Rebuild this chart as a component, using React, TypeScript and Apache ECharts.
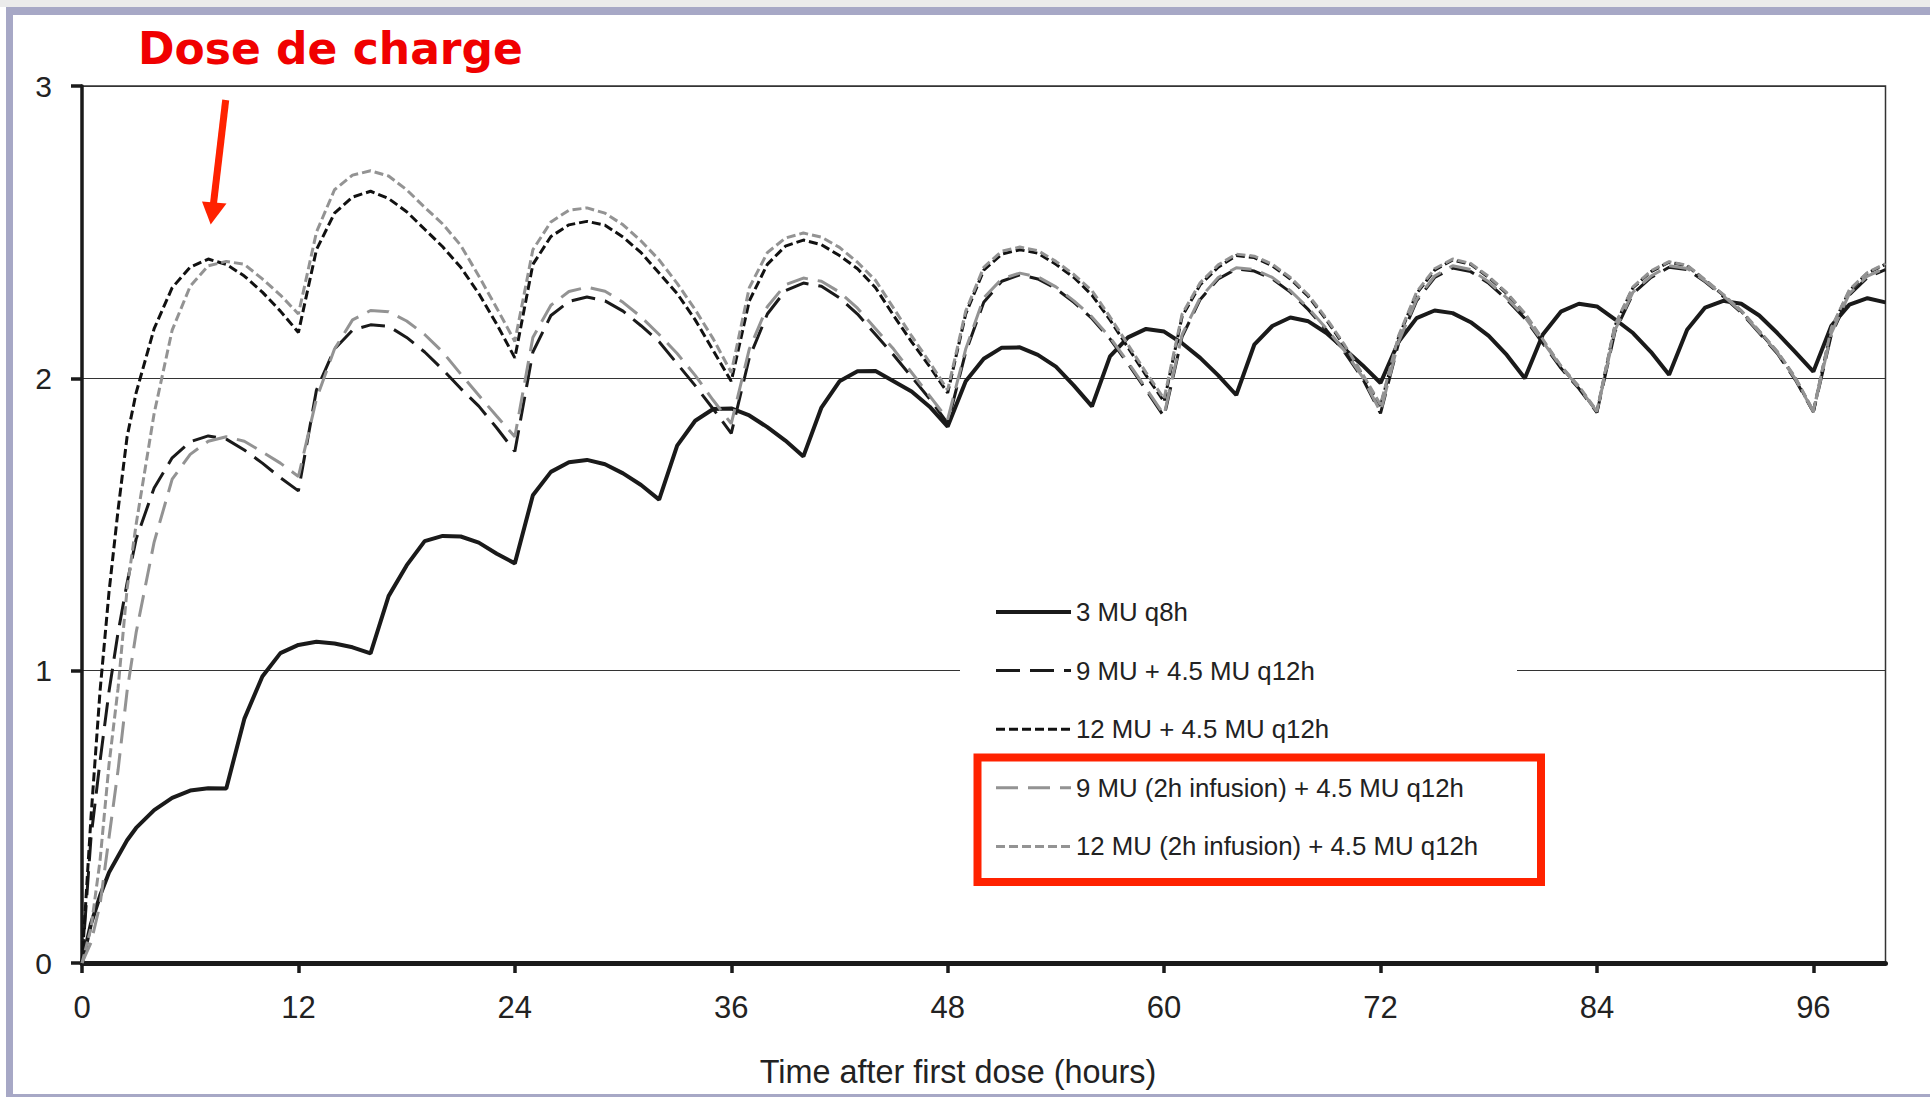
import React, { useEffect, useRef } from "react";
import * as echarts from "echarts";

// ---------- data ----------
const EARLY_HOURS = [0, 0.5, 1, 1.5, 2, 2.5, 3];
const HOURS: number[] = [...EARLY_HOURS, ...Array.from({ length: 97 }, (_, i) => i + 4)];

const X_TICKS = [0, 12, 24, 36, 48, 60, 72, 84, 96];
const Y_TICKS = [0, 1, 2, 3];

const SERIES_NAMES = [
  "3 MU q8h",
  "9 MU + 4.5 MU q12h",
  "12 MU + 4.5 MU q12h",
  "9 MU (2h infusion) + 4.5 MU q12h",
  "12 MU (2h infusion) + 4.5 MU q12h",
];

// 3 MU q8h
const S_3MU_Q8H = [
  0, 0.135, 0.23, 0.31, 0.365, 0.42, 0.462,
  0.523, 0.565, 0.59, 0.598, 0.597, 0.835, 0.98, 1.06, 1.088,
  1.099, 1.093, 1.08, 1.059, 1.255, 1.36, 1.443, 1.461, 1.459, 1.438, 1.4, 1.367,
  1.6, 1.68, 1.713, 1.721, 1.706, 1.675, 1.635, 1.585, 1.77, 1.855, 1.895, 1.897,
  1.873, 1.833, 1.787, 1.733, 1.9, 1.99, 2.024, 2.025, 1.99, 1.955, 1.903, 1.835,
  1.99, 2.067, 2.105, 2.106, 2.08, 2.04, 1.975, 1.904, 2.075, 2.14, 2.169, 2.16,
  2.12, 2.07, 2.01, 1.943, 2.115, 2.179, 2.208, 2.195, 2.155, 2.1, 2.045, 1.984,
  2.125, 2.206, 2.232, 2.223, 2.192, 2.145, 2.08, 2.0, 2.15, 2.228, 2.255, 2.246,
  2.202, 2.155, 2.09, 2.012, 2.166, 2.242, 2.265, 2.255, 2.215, 2.155, 2.09, 2.023,
  2.18, 2.252, 2.274, 2.26,
];

// 9 MU + 4.5 MU q12h
const S_9MU = [
  0, 0.43, 0.69, 0.93, 1.13, 1.3, 1.45,
  1.625, 1.728, 1.783, 1.803, 1.792, 1.755, 1.71, 1.66, 1.615,
  1.96, 2.1, 2.165, 2.183, 2.178, 2.14, 2.09, 2.03, 1.965, 1.905, 1.83, 1.75,
  2.09, 2.215, 2.263, 2.278, 2.265, 2.23, 2.18, 2.125, 2.05, 1.975, 1.895, 1.812,
  2.07, 2.22, 2.3, 2.326, 2.315, 2.275, 2.22, 2.15, 2.08, 2.005, 1.93, 1.846,
  2.09, 2.26, 2.332, 2.354, 2.34, 2.307, 2.26, 2.205, 2.135, 2.05, 1.96, 1.869,
  2.143, 2.27, 2.34, 2.374, 2.367, 2.34, 2.295, 2.235, 2.165, 2.09, 2.0, 1.88,
  2.12, 2.265, 2.345, 2.377, 2.365, 2.325, 2.27, 2.205, 2.12, 2.035, 1.965, 1.883,
  2.16, 2.29, 2.345, 2.38, 2.372, 2.33, 2.28, 2.225, 2.155, 2.085, 1.995, 1.885,
  2.15, 2.285, 2.345, 2.372,
];

// 12 MU + 4.5 MU q12h
const S_12MU = [
  0, 0.5, 0.93, 1.27, 1.55, 1.8, 1.95,
  2.17, 2.31, 2.38, 2.408, 2.39, 2.35, 2.295, 2.23, 2.157,
  2.44, 2.565, 2.62, 2.64, 2.615, 2.57, 2.51, 2.45, 2.38, 2.29, 2.185, 2.07,
  2.39, 2.485, 2.525, 2.537, 2.524, 2.483, 2.43, 2.36, 2.29, 2.2, 2.095, 1.99,
  2.265, 2.39, 2.452, 2.473, 2.457, 2.42, 2.375, 2.31, 2.215, 2.125, 2.04, 1.95,
  2.22, 2.37, 2.425, 2.44, 2.428, 2.39, 2.345, 2.285, 2.2, 2.105, 2.01, 1.92,
  2.212, 2.32, 2.38, 2.42, 2.413, 2.385, 2.34, 2.28, 2.2, 2.11, 2.01, 1.905,
  2.14, 2.29, 2.37, 2.405, 2.39, 2.345, 2.29, 2.22, 2.13, 2.04, 1.97, 1.885,
  2.18, 2.31, 2.365, 2.397, 2.385, 2.335, 2.285, 2.23, 2.16, 2.09, 2.0, 1.886,
  2.17, 2.3, 2.36, 2.39,
];

// 9 MU (2h infusion) + 4.5 MU q12h
const S_9MU_INF = [
  0, 0.07, 0.2, 0.43, 0.66, 0.93, 1.13,
  1.44, 1.655, 1.74, 1.785, 1.8, 1.785, 1.748, 1.71, 1.664,
  1.93, 2.1, 2.2, 2.232, 2.228, 2.196, 2.15, 2.09, 2.015, 1.942, 1.87, 1.8,
  2.14, 2.25, 2.297, 2.312, 2.298, 2.26, 2.21, 2.15, 2.085, 2.01, 1.925, 1.845,
  2.1, 2.245, 2.32, 2.343, 2.332, 2.295, 2.24, 2.17, 2.1, 2.02, 1.94, 1.86,
  2.1, 2.275, 2.34, 2.36, 2.347, 2.313, 2.265, 2.21, 2.14, 2.055, 1.965, 1.875,
  2.15, 2.275, 2.345, 2.378, 2.372, 2.345, 2.3, 2.24, 2.17, 2.095, 2.005, 1.885,
  2.125, 2.27, 2.35, 2.385, 2.372, 2.33, 2.275, 2.21, 2.125, 2.04, 1.968, 1.886,
  2.165, 2.295, 2.35, 2.385, 2.376, 2.333, 2.283, 2.228, 2.158, 2.088, 1.998, 1.886,
  2.155, 2.29, 2.35, 2.377,
];

// 12 MU (2h infusion) + 4.5 MU q12h
const S_12MU_INF = [
  0, 0.12, 0.35, 0.68, 0.94, 1.28, 1.5,
  1.88, 2.165, 2.315, 2.385, 2.4, 2.39, 2.34, 2.285, 2.22,
  2.5, 2.645, 2.695, 2.71, 2.692, 2.645, 2.585, 2.528, 2.455, 2.35, 2.24, 2.126,
  2.44, 2.535, 2.575, 2.583, 2.565, 2.525, 2.47, 2.405, 2.325, 2.235, 2.135, 2.02,
  2.31, 2.43, 2.48, 2.497, 2.483, 2.448, 2.397, 2.335, 2.24, 2.145, 2.055, 1.96,
  2.23, 2.38, 2.435, 2.449, 2.437, 2.4, 2.355, 2.3, 2.21, 2.115, 2.02, 1.93,
  2.22, 2.327, 2.388, 2.425, 2.418, 2.39, 2.345, 2.285, 2.205, 2.115, 2.015, 1.91,
  2.145, 2.295, 2.375, 2.408, 2.393, 2.348, 2.293, 2.223, 2.133, 2.043, 1.973, 1.888,
  2.183, 2.313, 2.368, 2.399, 2.387, 2.337, 2.287, 2.232, 2.162, 2.092, 2.003, 1.888,
  2.173, 2.303, 2.362, 2.392,
];

const SERIES_VALUES = [S_3MU_Q8H, S_9MU, S_12MU, S_9MU_INF, S_12MU_INF];

// ---------- styles ----------
const FONT = "'Liberation Sans', Arial, sans-serif";
const STYLES = [
  { color: "#1a1a1a", width: 4, type: "solid" as any },
  { color: "#1a1a1a", width: 3, type: [24, 10] },
  { color: "#111111", width: 3, type: [9, 4] },
  { color: "#939393", width: 3, type: [22, 10] },
  { color: "#939393", width: 3, type: [9, 4] },
];

export default function App() {
  const ref = useRef<HTMLDivElement>(null);

  useEffect(() => {
    document.body.style.margin = "0";
    document.body.style.overflow = "hidden";
    const chart = echarts.init(ref.current!, null, { renderer: "svg" });

    const series = SERIES_NAMES.map((name, k) => ({
      name,
      type: "line",
      showSymbol: false,
      symbol: "none",
      color: STYLES[k].color,
      lineStyle: { color: STYLES[k].color, width: STYLES[k].width, type: STYLES[k].type, cap: "butt" },
      data: HOURS.map((t, i) => [t, SERIES_VALUES[k][i]]),
      z: 2 + k * 0.1,
      silent: true,
    }));

    const option: any = {
      animation: false,
      backgroundColor: "#ffffff",
      grid: {
        left: 82,
        right: 44.5,
        top: 86,
        bottom: 134,
        show: true,
        borderColor: "#333",
        borderWidth: 1.5,
        containLabel: false,
      },
      xAxis: {
        type: "value",
        min: 0,
        max: 100,
        interval: 12,
        axisLine: { show: true, lineStyle: { color: "#1a1a1a", width: 5 } },
        axisTick: {
          show: true,
          length: 10,
          customValues: X_TICKS,
          lineStyle: { color: "#1a1a1a", width: 3.5 },
        },
        axisLabel: {
          customValues: X_TICKS,
          margin: 29,
          fontSize: 31,
          color: "#222",
          fontFamily: FONT,
          formatter: (v: number) => (X_TICKS.includes(v) ? String(v) : ""),
        },
        splitLine: { show: false },
      },
      yAxis: {
        type: "value",
        min: 0,
        max: 3,
        interval: 1,
        axisLine: { show: true, lineStyle: { color: "#1a1a1a", width: 3.5 } },
        axisTick: { show: true, length: 11, lineStyle: { color: "#1a1a1a", width: 3.5 } },
        axisLabel: {
          margin: 30,
          fontSize: 30,
          color: "#222",
          fontFamily: FONT,
          formatter: (v: number) => (Y_TICKS.includes(v) ? String(v) : ""),
        },
        splitLine: { show: true, lineStyle: { color: "#333", width: 1.2 } },
      },
      legend: {
        orient: "vertical",
        left: 994,
        top: 597,
        itemWidth: 75,
        itemHeight: 14,
        itemGap: 28.6,
        padding: 0,
        selectedMode: false,
        data: SERIES_NAMES,
        itemStyle: { opacity: 0 },
        lineStyle: { width: "inherit" },
        textStyle: { fontSize: 25.8, color: "#222", fontFamily: FONT, lineHeight: 30 },
        z: 6,
      },
      graphic: [
        { type: "rect", shape: { x: 0, y: 0, width: 1930, height: 7 }, style: { fill: "#ebebeb" }, z: 0, silent: true },
        { type: "rect", shape: { x: 6, y: 7, width: 1924, height: 8 }, style: { fill: "#a7a8c6" }, z: 0, silent: true },
        { type: "rect", shape: { x: 6, y: 7, width: 7, height: 1090 }, style: { fill: "#a7a8c6" }, z: 0, silent: true },
        { type: "rect", shape: { x: 6, y: 1094, width: 1924, height: 3 }, style: { fill: "#a7a8c6" }, z: 0, silent: true },
        // legend white background (interrupts the gridline)
        { type: "rect", shape: { x: 960, y: 590, width: 557, height: 280 }, style: { fill: "#ffffff" }, z: 1, silent: true },
        // red highlight box
        {
          type: "rect",
          shape: { x: 977.5, y: 757.5, width: 563.5, height: 124.5 },
          style: { fill: "transparent", stroke: "#ff2200", lineWidth: 8 },
          z: 10,
          silent: true,
        },
        // title
        {
          type: "text",
          x: 138,
          y: 48.5,
          style: {
            text: "Dose de charge",
            fill: "#f00000",
            fontSize: 44,
            fontWeight: "bold",
            fontFamily: "'DejaVu Sans', Verdana, sans-serif",
            align: "left",
            verticalAlign: "middle",
          },
          z: 10,
          silent: true,
        },
        // arrow
        {
          type: "line",
          shape: { x1: 225.7, y1: 100, x2: 213.2, y2: 206 },
          style: { stroke: "#ff2200", lineWidth: 7 },
          z: 10,
          silent: true,
        },
        {
          type: "polygon",
          shape: { points: [[202, 201.5], [226.5, 203.5], [210.7, 224.5]] },
          style: { fill: "#ff2200" },
          z: 10,
          silent: true,
        },
        // x axis title
        {
          type: "text",
          x: 958,
          y: 1072,
          style: {
            text: "Time after first dose (hours)",
            fill: "#222",
            fontSize: 32.4,
            fontFamily: FONT,
            align: "center",
            verticalAlign: "middle",
          },
          z: 10,
          silent: true,
        },
      ],
      series,
    };

    chart.setOption(option);
    return () => chart.dispose();
  }, []);

  return <div ref={ref} style={{ width: 1930, height: 1097 }} />;
}
